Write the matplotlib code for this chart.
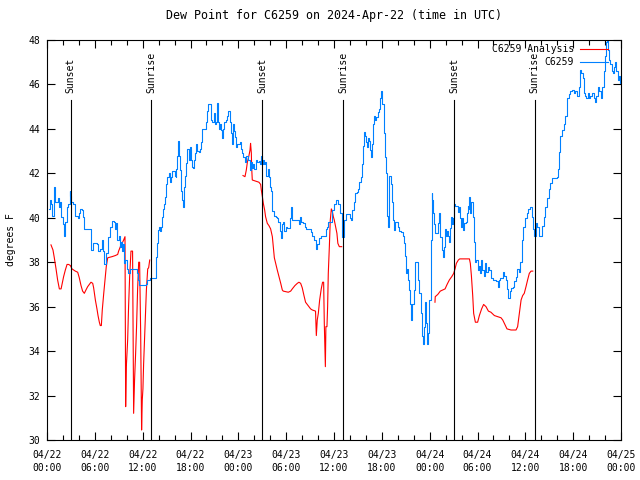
import numpy as np
import matplotlib
matplotlib.use('Agg')
import matplotlib.pyplot as plt
import matplotlib.dates as mdates

plt.rcParams['font.family'] = ['DejaVu Sans Mono']
plt.rcParams['font.size'] = 7

# start of the plotted period (UTC)
start = np.datetime64('2024-04-22T00:00')

# C6259 observations: hours after start, dew point (F)
obs_hours = [0.21, 0.33, 0.50, 0.63, 0.84, 0.92, 1.05, 1.25, 1.38, 1.55, 1.67, 1.80, 2.01, 2.17, 2.30,
             2.51, 2.63, 2.84, 2.93, 3.05, 3.26, 3.55, 3.85, 3.97, 4.18, 4.39, 4.51, 4.68, 5.43, 5.56,
             5.77, 6.27, 6.40, 6.69, 6.90, 7.02, 7.19, 7.44, 7.61, 7.86, 8.15, 8.36, 8.49, 8.65, 8.78,
             8.99, 9.11, 9.28, 9.41, 9.53, 9.70, 9.82, 10.03, 10.20, 10.37, 11.08, 11.29, 11.41, 11.50,
             12.41, 12.54, 12.88, 13.50, 13.63, 13.71, 13.80, 13.92, 14.05, 14.13, 14.34, 14.42, 14.55,
             14.67, 14.84, 14.97, 15.09, 15.26, 15.38, 15.51, 15.68, 15.89, 16.01, 16.14, 16.22, 16.35,
             16.47, 16.55, 16.64, 16.76, 16.93, 17.06, 17.14, 17.27, 17.47, 17.60, 17.77, 17.89, 18.02,
             18.18, 18.31, 18.44, 18.60, 18.73, 18.85, 19.02, 19.23, 19.36, 19.44, 19.77, 19.90, 20.07,
             20.19, 20.48, 20.61, 20.73, 20.90, 21.03, 21.24, 21.32, 21.45, 21.57, 21.65, 21.78, 21.90,
             22.07, 22.20, 22.41, 22.62, 22.74, 22.91, 23.03, 23.16, 23.33, 23.45, 23.58, 23.74, 23.87,
             24.16, 24.33, 24.50, 24.62, 24.83, 25.00, 25.25, 25.42, 25.54, 25.67, 25.84, 25.96, 26.17,
             26.38, 26.59, 26.71, 26.80, 26.92, 27.09, 27.22, 27.34, 27.51, 27.67, 27.80, 27.93, 28.09,
             28.26, 28.51, 28.68, 28.89, 29.01, 29.18, 29.31, 29.43, 29.51, 29.64, 29.77, 29.93, 30.06,
             30.27, 30.43, 30.56, 30.68, 30.98, 31.52, 31.60, 31.73, 31.90, 32.11, 32.31, 32.52, 32.86,
             33.07, 33.28, 33.49, 33.69, 33.90, 34.11, 34.32, 34.74, 34.95, 35.16, 35.28, 35.58, 35.78,
             35.99, 36.20, 36.41, 36.54, 36.76, 36.97, 37.18, 37.30, 37.47, 37.80, 38.01, 38.14, 38.30,
             38.51, 38.64, 38.85, 38.97, 39.14, 39.35, 39.47, 39.60, 39.72, 39.89, 40.02, 40.14, 40.27,
             40.39, 40.52, 40.64, 40.73, 40.85, 40.98, 41.15, 41.31, 41.48, 41.65, 41.81, 41.94, 42.07,
             42.23, 42.36, 42.48, 42.61, 42.73, 42.86, 42.94, 43.11, 43.24, 43.36, 43.53, 43.65, 43.86,
             43.99, 44.16, 44.41, 44.62, 44.74, 44.87, 44.99, 45.12, 45.24, 45.41, 45.54, 45.66, 45.83,
             45.99, 46.16, 46.41, 46.58, 46.71, 46.87, 47.04, 47.17, 47.33, 47.46, 47.58, 47.71, 47.83,
             47.96, 48.13, 48.25, 48.34, 48.46, 48.59, 48.71, 48.88, 49.01, 49.13, 49.26, 49.34, 49.51,
             49.63, 49.76, 49.88, 50.05, 50.18, 50.30, 50.43, 50.55, 50.68, 50.80, 50.93, 51.05, 51.18,
             51.39, 51.51, 51.64, 51.76, 51.89, 52.02, 52.18, 52.35, 52.52, 52.64, 52.77, 52.89, 52.98,
             53.10, 53.23, 53.40, 53.52, 53.73, 53.86, 54.02, 54.15, 54.31, 54.44, 54.61, 54.77, 54.90,
             55.11, 55.28, 55.49, 55.69, 55.90, 56.11, 56.32, 56.53, 56.66, 56.82, 57.07, 57.16, 57.37,
             57.58, 57.70, 57.87, 58.03, 58.20, 58.41, 58.62, 58.83, 58.95, 59.16, 59.25, 59.37, 59.54,
             59.75, 59.96, 60.17, 60.38, 60.58, 60.71, 60.84, 60.96, 61.13, 61.30, 61.46, 61.67, 61.88,
             62.09, 62.30, 62.51, 62.72, 62.93, 63.14, 63.35, 63.97, 64.10, 64.22, 64.39, 64.60, 64.81,
             65.02, 65.23, 65.44, 65.64, 65.85, 66.06, 66.27, 66.48, 66.69, 66.90, 67.02, 67.19, 67.32,
             67.53, 67.65, 67.82, 67.98, 68.15, 68.36, 68.57, 68.78, 68.90, 69.07, 69.24, 69.49, 69.66,
             69.82, 69.99, 70.16, 70.24, 70.37, 70.49, 70.66, 70.83, 71.00, 71.16, 71.29, 71.41, 71.58,
             71.75, 71.91, 72.00]
obs_dewpt = [40.4, 40.8, 40.6, 40.1, 40.1, 41.4, 40.7, 40.7, 40.9, 40.5, 40.7, 40.05, 39.7, 39.2, 39.8,
             40.5, 40.6, 41.2, 41.0, 40.7, 40.6, 40.1, 40.0, 40.2, 40.4, 40.35, 40.05, 39.5, 39.5, 38.55,
             38.85, 38.8, 38.5, 38.6, 39.0, 38.5, 37.9, 38.4, 39.15, 39.6, 39.85, 39.8, 39.5, 39.75, 39.0,
             39.2, 38.7, 38.9, 38.5, 38.8, 37.95, 38.1, 37.7, 37.5, 37.7, 37.7, 37.5, 37.2, 36.97,
             37.0, 37.2, 37.3, 37.3, 37.8, 38.25, 38.85, 39.45, 39.6, 39.4, 39.6, 40.05, 40.4,
             40.6, 40.95, 41.5, 41.85, 42.0, 41.6, 41.85, 42.1, 42.1, 41.9, 41.85, 42.2, 42.8,
             43.45, 42.8, 42.15, 41.2, 40.8, 40.5, 41.4, 41.9, 42.45, 43.1, 42.6, 43.2, 42.6,
             42.3, 42.25, 42.6, 42.9, 43.3, 43.0, 42.95, 43.1, 43.4, 44.0, 44.0, 44.3, 44.8,
             45.1, 45.1, 44.4, 44.3, 44.7, 44.2, 44.3, 45.15, 44.3, 44.0, 44.2, 43.95, 43.6,
             44.0, 44.3, 44.4, 44.6, 44.8, 44.3, 43.8, 43.3, 44.2, 43.9, 43.65, 43.2, 43.3,
             43.4, 43.1, 42.9, 42.75, 42.5, 42.8, 42.6, 42.15, 42.5, 42.25, 42.4, 42.2, 42.6,
             42.5, 42.55, 42.4, 42.8, 42.4, 42.6, 42.4, 42.5, 41.9, 42.2, 41.85, 41.4, 41.2,
             40.3, 40.1, 40.05, 40.0, 39.8, 39.4, 39.1, 39.4, 39.7, 39.8, 39.4, 39.6, 39.55,
             39.55, 40.0, 40.5, 39.9, 39.9, 39.9, 39.7, 40.05, 39.8, 39.75, 39.6, 39.5, 39.5,
             39.35, 39.2, 39.0, 38.6, 38.8, 39.1, 39.2, 39.2, 39.5, 39.6, 39.8, 39.8, 40.35,
             40.6, 40.8, 40.8, 40.6, 40.2, 39.15, 39.15, 39.9, 40.15, 40.15, 40.0, 39.9, 40.35,
             40.7, 41.1, 41.15, 41.3, 41.6, 41.85, 42.4, 43.25, 43.85, 43.7, 43.4, 43.2, 43.6,
             43.45, 43.05, 42.75, 43.3, 44.2, 44.6, 44.4, 44.55, 44.75, 44.9, 45.4, 45.7, 45.1,
             43.8, 42.75, 42.0, 40.1, 39.6, 40.9, 41.9, 41.5, 40.7, 39.9, 39.45, 39.8, 39.8,
             39.6, 39.4, 39.35, 39.2, 38.85, 38.3, 37.5, 37.7, 37.2, 36.75, 36.1, 35.4, 36.1,
             36.75, 38.0, 38.0, 37.2, 36.6, 35.7, 34.7, 34.3, 35.1, 36.2, 35.25, 34.3, 34.8,
             36.3, 39.0, 41.1, 40.8, 40.2, 39.7, 39.3, 39.3, 39.75, 40.2, 39.6, 39.15, 38.55,
             38.25, 38.7, 39.5, 39.2, 39.4, 39.2, 38.9, 39.55, 40.05, 39.7, 40.0, 40.6, 40.55,
             40.55, 40.25, 40.5, 40.0, 39.6, 40.0, 39.45, 39.75, 39.8, 40.2, 40.55, 40.4, 40.95,
             40.2, 40.7, 40.05, 38.9, 38.0, 38.1, 37.65, 37.85, 37.5, 38.1, 37.65, 37.4, 37.95,
             37.55, 37.8, 37.65, 37.3, 37.2, 37.2, 37.15, 36.9, 37.2, 37.3, 37.3, 37.55, 37.4,
             37.2, 36.8, 36.4, 36.7, 36.85, 36.9, 37.15, 37.35, 37.7, 37.6, 37.55, 38.0, 39.0,
             39.6, 40.0, 40.2, 40.4, 40.5, 40.5, 40.05, 39.5, 39.2, 39.75, 39.6, 39.2, 39.2,
             39.65, 40.05, 40.5, 40.9, 41.3, 41.55, 41.8, 41.85, 42.2, 42.95, 43.7, 43.95, 44.2,
             44.6, 45.4, 45.55, 45.7, 45.75, 45.6, 45.7, 45.5, 45.9, 46.65, 46.5, 46.3, 45.6,
             45.5, 45.4, 45.6, 45.4, 45.5, 45.6, 45.4, 45.2, 45.5, 45.9, 45.7, 45.4, 45.9,
             46.6, 47.3, 47.9, 48.0, 47.55, 47.1, 46.9, 46.6, 46.5, 46.8, 47.0, 46.6, 46.2,
             46.4, 46.05, 46.1]

# C6259 analysis, three separate runs (NaN marks the gaps)
ana_hours = [0.50, 0.75, 0.92, 1.13, 1.34, 1.55, 1.76, 1.88, 2.09, 2.30, 2.51, 2.72, 2.93, 3.14, 3.55,
             3.85, 4.05, 4.26, 4.47, 4.68, 4.89, 5.10, 5.31, 5.52, 5.73, 5.85, 6.06, 6.27, 6.40, 6.56,
             6.69, 6.81, 6.94, 7.11, 7.32, 7.44, 7.61, 8.15, 8.57, 8.86, 8.99, 9.20, 9.41, 9.61, 9.78,
             9.86, 9.95, 10.12, 10.24, 10.37, 10.53, 10.74, 10.87, 10.99, 11.12, 11.24, 11.37, 11.50,
             11.62, 11.75, 11.87, 11.95, 12.04, 12.12, 12.25, 12.37, 12.46, 12.63, 12.75, 12.88,
             18.0,
             24.58, 24.83, 25.00, 25.13, 25.33, 25.46, 25.54, 25.63, 25.67, 25.75, 26.17, 26.59, 26.80,
             26.88, 27.01, 27.13, 27.30, 27.42, 27.63, 27.84, 28.05, 28.26, 28.39, 28.51, 28.68, 28.89,
             29.10, 29.31, 29.51, 29.64, 30.27, 30.56, 30.77, 31.10, 31.40, 31.60, 31.81, 32.02, 32.23,
             32.44, 32.65, 32.86, 33.07, 33.28, 33.69, 33.78, 33.90, 34.03, 34.20, 34.40, 34.57, 34.70,
             34.78, 34.91, 34.99, 35.12, 35.20, 35.28, 35.41, 35.53, 35.66, 35.78, 35.91, 36.03, 36.20,
             36.37, 36.49, 36.67, 36.97,
             42.0,
             48.67, 48.70, 49.01, 49.34, 49.63, 49.93, 50.18, 50.47, 50.76, 51.01, 51.18, 51.35, 51.60,
             51.76, 52.35, 52.98, 53.10, 53.23, 53.40, 53.52, 53.73, 54.02, 54.23, 54.52, 54.77, 55.07,
             55.36, 55.69, 56.11, 56.53, 56.95, 57.16, 57.37, 57.70, 58.20, 58.83, 59.04, 59.25, 59.46,
             59.67, 59.87, 60.08, 60.29, 60.50, 60.71, 60.93]
ana_dewpt = [38.78, 38.55, 38.2, 37.7, 37.2, 36.8, 36.8, 37.0, 37.35, 37.65, 37.9, 37.9, 37.85, 37.7, 37.6,
             37.55, 37.3, 36.95, 36.7, 36.6, 36.75, 36.9, 37.0, 37.1, 37.05, 36.85, 36.3, 35.9, 35.6, 35.3,
             35.15, 35.15, 35.85, 36.6, 37.35, 37.8, 38.2, 38.25, 38.3, 38.35, 38.5, 38.7, 38.85, 39.0, 39.15,
             31.5, 33.3, 34.5, 36.0, 37.35, 38.5, 38.5, 31.2, 32.7, 33.9, 35.1, 36.8, 38.0,
             38.0, 34.8, 30.45, 31.8, 32.3, 33.4, 34.7, 35.9, 36.75, 37.7, 37.75, 38.1,
             np.nan,
             41.9, 41.85, 42.15, 42.5, 42.8, 43.05, 43.35, 42.9, 42.3, 41.7, 41.65, 41.6, 41.5,
             41.25, 40.95, 40.65, 40.35, 40.05, 39.75, 39.65, 39.5, 39.15, 38.7, 38.2, 37.95, 37.65,
             37.35, 37.05, 36.75, 36.7, 36.65, 36.7, 36.8, 36.95, 37.05, 37.1, 37.05, 36.85, 36.5,
             36.2, 36.1, 36.0, 35.9, 35.85, 35.8, 34.7, 35.4, 35.7, 36.3, 36.8, 37.1, 37.1,
             35.25, 33.3, 35.1, 35.1, 36.0, 37.5, 38.7, 39.9, 40.4, 40.3, 40.05, 39.9, 39.6,
             39.3, 38.85, 38.7, 38.7,
             np.nan,
             36.2, 36.45, 36.55, 36.7, 36.75, 36.8, 37.0, 37.2, 37.35, 37.5, 37.7, 37.95, 38.1,
             38.15, 38.15, 38.15, 37.95, 37.4, 36.5, 35.7, 35.3, 35.3, 35.6, 35.9, 36.1, 36.0,
             35.8, 35.75, 35.6, 35.55, 35.5, 35.4, 35.25, 35.0, 34.95, 34.95, 35.1, 35.7, 36.3,
             36.5, 36.6, 36.9, 37.2, 37.5, 37.6, 37.6]

# sunset / sunrise times, hours after start
sunset_hours = [2.97, 27.01, 51.09]
sunrise_hours = [13.08, 37.17, 61.18]


def to_time(hours):
    return start + (np.array(hours) * 60).round().astype('timedelta64[m]')


fig = plt.figure(figsize=(6.4, 4.8), dpi=100)
ax = fig.add_axes([47 / 640, 40 / 480, 574 / 640, 400 / 480])

ax.plot(to_time(ana_hours), ana_dewpt, color='#ff0000', lw=0.8, label='C6259 Analysis')
ax.plot(to_time(obs_hours), obs_dewpt, color='#0080ff', lw=0.8, drawstyle='steps-post', label='C6259')

for name, hrs in [('Sunset', sunset_hours), ('Sunrise', sunrise_hours)]:
    for t in to_time(hrs):
        ax.axvline(t, ymin=0, ymax=0.85, color='black', lw=0.8)
        ax.text(t, 0.868, name, transform=ax.get_xaxis_transform(), rotation=90,
                ha='center', va='bottom')

ax.set_xlim(start, start + np.timedelta64(72, 'h'))
ax.set_ylim(30, 48)
ax.set_yticks(np.arange(30, 49, 2))

ax.xaxis.set_major_locator(mdates.HourLocator(byhour=[0, 6, 12, 18]))
ax.xaxis.set_minor_locator(mdates.HourLocator(byhour=range(0, 24, 2)))
ax.xaxis.set_major_formatter(mdates.DateFormatter('%m/%d\n%H:%M'))
ax.tick_params(axis='both', which='both', direction='in', top=True, right=True, width=0.8)
ax.tick_params(axis='both', which='major', length=6)
ax.tick_params(axis='x', which='minor', length=3.5)
ax.tick_params(axis='x', which='major', pad=7)
ax.tick_params(axis='y', which='major', pad=5)
for lbl in ax.get_xticklabels():
    lbl.set_linespacing(1.35)
for sp in ax.spines.values():
    sp.set_linewidth(0.8)

ax.set_title('Dew Point for C6259 on 2024-Apr-22 (time in UTC)', pad=15)
ax.set_ylabel('degrees F', labelpad=9)

ax.legend(loc='upper right', bbox_to_anchor=(1 - 13 / 574, 1 - 4 / 400), frameon=False,
          markerfirst=False, handlelength=2.9, handletextpad=0.6, borderaxespad=0,
          borderpad=0, labelspacing=0.35)

fig.savefig('out.png', dpi=100)
